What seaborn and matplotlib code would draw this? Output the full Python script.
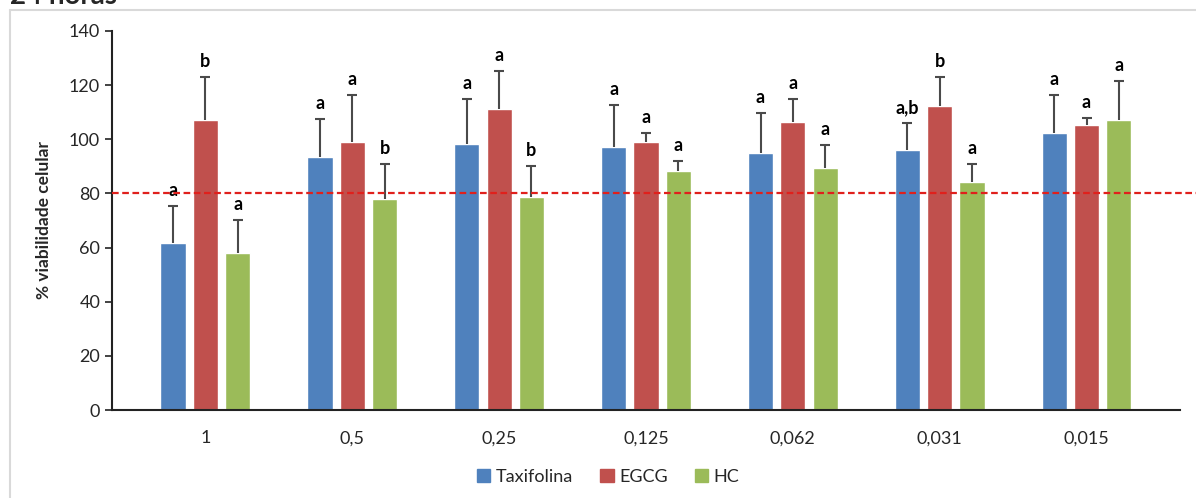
import numpy as np
import pandas as pd
import matplotlib
matplotlib.use('Agg')
import matplotlib.pyplot as plt
import seaborn as sns
from matplotlib.patches import Patch

concentrations = ['1', '0,5', '0,25', '0,125', '0,062', '0,031', '0,015']
compounds = ['Taxifolina', 'EGCG', 'HC']

taxifolina = [61.7, 93.3, 98.4, 97.2, 94.8, 96.2, 102.2]
egcg = [107.0, 99.0, 111.1, 99.0, 106.3, 112.3, 105.4]
hc = [57.9, 78.1, 78.7, 88.2, 89.3, 84.1, 107.0]

taxifolina_sd = [13.6, 14.2, 16.5, 15.5, 14.8, 9.9, 14.0]
egcg_sd = [15.9, 17.2, 14.2, 3.3, 8.5, 10.8, 2.6]
hc_sd = [12.2, 12.8, 11.5, 3.9, 8.6, 6.9, 14.6]

taxifolina_letters = ['a', 'a', 'a', 'a', 'a', 'a,b', 'a']
egcg_letters = ['b', 'a', 'a', 'a', 'a', 'b', 'a']
hc_letters = ['a', 'b', 'b', 'a', 'a', 'a', 'a']

cutoff = 80
colors = ['#4f81bd', '#c0504d', '#9bbb59']

df = pd.DataFrame({
    'conc': concentrations * 3,
    'compound': np.repeat(compounds, len(concentrations)),
    'value': taxifolina + egcg + hc,
})
sds = taxifolina_sd + egcg_sd + hc_sd
letters = taxifolina_letters + egcg_letters + hc_letters

sns.set_style('white')
plt.rcParams['font.family'] = ['Lato', 'DejaVu Sans']

fig = plt.figure(figsize=(11.96, 4.98), dpi=100)
ax = fig.add_axes([0.0936, 0.1767, 0.893, 0.7611])

sns.barplot(data=df, x='conc', y='value', hue='compound', order=concentrations,
            hue_order=compounds, palette=colors, width=0.66, gap=0.22,
            errorbar=None, saturation=1, legend=False, ax=ax)

bars = [p for p in ax.patches]
xs = [b.get_x() + b.get_width() / 2 for b in bars]
ys = [b.get_height() for b in bars]
eb = ax.errorbar(xs, ys, yerr=[np.zeros(len(sds)), sds], fmt='none',
                 ecolor='#4a4a4a', elinewidth=1.5, capsize=3.5, capthick=1.5, zorder=3)
# only upper whiskers, like the original
eb[1][0].set_visible(False)
for x, y, s, t in zip(xs, ys, sds, letters):
    ax.annotate(t, (x, y + s), xytext=(0, 5), textcoords='offset points',
                ha='center', va='bottom', fontsize=13, fontweight='bold', color='black')

ax.axhline(cutoff, xmin=0, xmax=1.02, color='#e0201c', lw=1.6,
           linestyle=(0, (3, 1.6)), clip_on=False, zorder=4)

ax.set_ylim(0, 140)
ax.set_yticks(range(0, 141, 20))
ax.set_xlabel('')
ax.set_ylabel('% viabilidade celular', fontsize=12.5, fontweight='bold', labelpad=12)
ax.tick_params(axis='y', labelsize=13, left=True, length=5, width=1.2, color='#222222')
ax.tick_params(axis='x', labelsize=13, pad=11, bottom=False)
for side in ['top', 'right']:
    ax.spines[side].set_visible(False)
for side in ['left', 'bottom']:
    ax.spines[side].set_color('#222222')
    ax.spines[side].set_linewidth(1.5)

handles = [Patch(color=c, label=n) for c, n in zip(colors, compounds)]
fig.legend(handles=handles, loc='center', bbox_to_anchor=(608 / 1196, 1 - 477 / 498),
           ncol=3, frameon=False, fontsize=13, handlelength=0.75, handleheight=0.75,
           handletextpad=0.3, columnspacing=1.5)

# outer frame of the original figure
fig.add_artist(plt.Line2D([10 / 1196, 10 / 1196], [0, 1 - 10 / 498], color='#d9d9d9', lw=1.5))
fig.add_artist(plt.Line2D([10 / 1196, 1], [1 - 10 / 498, 1 - 10 / 498], color='#d9d9d9', lw=1.5))
fig.text(10 / 1196, 1 - 4 / 498, '24 horas', fontsize=20, fontweight='bold',
         ha='left', va='baseline')

fig.savefig('out.png', dpi=100, facecolor='white')
